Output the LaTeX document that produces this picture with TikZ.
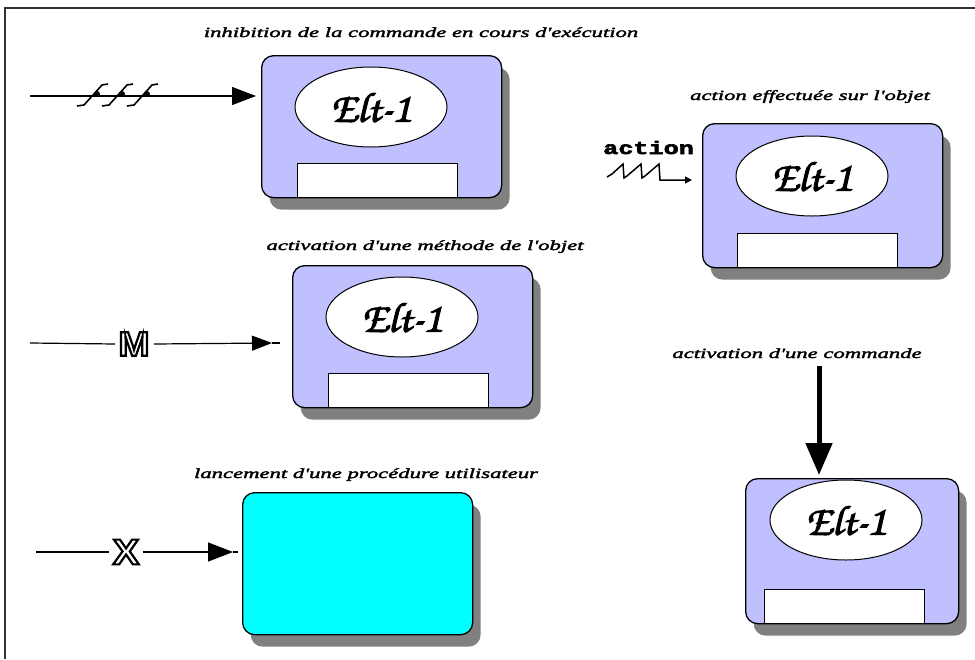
\documentclass[tikz,border=0pt]{standalone}
\usepackage[T1]{fontenc}
\usepackage{fontspec}
\usetikzlibrary{arrows.meta,calc,shadows,shapes.geometric}
\newfontfamily\labfont[FakeStretch=1.62]{Liberation Serif Italic}
\newfontfamily\actfont[FakeStretch=1.4]{Liberation Mono Bold}
\newfontfamily\symfont[FakeStretch=1.1]{Liberation Sans Bold}
\newcommand\eltfont{\fontencoding{T1}\fontfamily{pzc}\fontseries{mb}\fontshape{it}\fontsize{42}{42}\selectfont}
\newcommand\strokedtext[2]{\special{pdf:literal direct #1}#2\special{pdf:literal direct 0 Tr 1 w}}
\definecolor{lav}{RGB}{192,192,255}
\definecolor{cyanbox}{RGB}{0,255,255}
\definecolor{shadowgray}{RGB}{128,128,128}
\tikzset{
  framepen/.style={line width=2.2pt, black!80},
  card/.style={draw=black, line width=1.3pt, fill=lav, rounded corners=12pt,
    anchor=north west, inner sep=0pt,
    general shadow={fill=shadowgray, draw=none, shadow xshift=8pt, shadow yshift=-12pt}},
  cyancard/.style={card, fill=cyanbox},
  eltoval/.style={draw=black, line width=1pt, fill=white, ellipse, inner sep=0pt,
    minimum width=152pt, minimum height=80pt, font=\eltfont},
  whitebar/.style={draw=black, line width=1.3pt, fill=white, anchor=south west,
    inner sep=0pt, minimum width=160pt, minimum height=34pt},
  lab/.style={font=\labfont\fontsize{14}{14}\selectfont, anchor=base, inner sep=0pt},
  wire/.style={line width=1.2pt, black},
  tipA/.style={line width=1.2pt, -{Triangle[length=24pt,width=18pt]}},
  tipB/.style={line width=1.2pt, -{Triangle[length=20pt,width=15pt]}},
  tipC/.style={line width=1.2pt, -{Triangle[length=25pt,width=19pt]}},
  sym/.style={font=\symfont\fontsize{34}{34}\selectfont, inner sep=0pt},
}
\newcommand\elt{\strokedtext{2 Tr 1.1 w}{Elt-1}}
\newcommand\labtext[1]{\strokedtext{2 Tr 0.35 w}{#1}}
\begin{document}
\begin{tikzpicture}[x=1pt,y=-1pt]
\useasboundingbox (0,0) rectangle (975,659);
% frame
\draw[framepen] (5,659) -- (5,8) -- (975,8);

% card 1
\node[card, minimum width=240pt, minimum height=142pt] (b1) at (261,55) {};
\node[eltoval] (e1) at ($(b1.north west)+(110,52)$) {\elt};
\node[whitebar] (w1) at ($(b1.south west)+(36,0)$) {};
\node[lab] (l1) at (421,37) {\labtext{inhibition de la commande en cours d'exécution}};

% card 2
\node[card, minimum width=240pt, minimum height=142pt] (b2) at (292,265) {};
\node[eltoval] (e2) at ($(b2.north west)+(110,52)$) {\elt};
\node[whitebar] (w2) at ($(b2.south west)+(36,0)$) {};
\node[lab] (l2) at (425,250) {\labtext{activation d'une méthode de l'objet}};

% card 3
\node[card, minimum width=240pt, minimum height=144pt] (b3) at (702,123) {};
\node[eltoval] (e3) at ($(b3.north west)+(110,53)$) {\elt};
\node[whitebar] (w3) at ($(b3.south west)+(35,0)$) {};
\node[lab] (l3) at (810,100) {\labtext{action effectuée sur l'objet}};

% card 4
\node[card, minimum width=213pt, minimum height=145pt] (b4) at (745,478) {};
\node[eltoval] (e4) at ($(b4.north west)+(101,42)$) {\elt};
\node[whitebar] (w4) at ($(b4.south west)+(19,0)$) {};
\node[lab] (l4) at (797,358) {\labtext{activation d'une commande}};

% card 5 (cyan)
\node[cyancard, minimum width=230pt, minimum height=142pt] (b5) at (242,492) {};
\node[lab] (l5) at (366,478) {\labtext{lancement d'une procédure utilisateur}};

% arrow 1 with hash marks
\coordinate (a1s) at (30,96);
\coordinate (a1t) at ($(b1.west|-a1s)+(-5,0)$);
\draw[tipA] (a1s) -- (a1t);
\foreach \hx in {97,122,147}{
  \draw[line width=1.6pt] (\hx-20,106) -- (\hx-13,105) -- (\hx+5,85) -- (\hx+11,84);
  \fill (\hx,94) circle (3pt);
}

% arrow 2 with M
\node[sym] (m) at (134,344) {\strokedtext{1 Tr 2.2 w}{M}};
\coordinate (a2s) at (30,343);
\coordinate (a2t) at (272,343);
\coordinate (a2e) at (280,343);
\draw[wire] (a2s) -- ($(m.west)+(-3,0)$);
\draw[tipB] ($(m.east)+(4,0)$) -- (a2t);
\draw[wire] (a2t) -- (a2e);

% arrow 3 with X
\node[sym, font=\symfont\fontsize{36}{36}\selectfont] (xs) at (126,552) {\strokedtext{1 Tr 2.2 w}{X}};
\coordinate (a3s) at (36,552);
\coordinate (a3t) at (233,552);
\coordinate (a3e) at (238,552);
\draw[wire] (a3s) -- ($(xs.west)+(-4,0)$);
\draw[tipC] ($(xs.east)+(4,0)$) -- (a3t);
\draw[wire] (a3t) -- (a3e);

% action squiggle
\node[font=\actfont\fontsize{18}{18}\selectfont, anchor=base west, inner sep=0pt] (act) at (603,154) {\strokedtext{2 Tr 0.6 w}{action}};
\coordinate (sq) at (607,177);
\coordinate (sqt) at (692,180);
\draw[line width=1.5pt, -{Triangle[length=7pt,width=7pt]}]
  (sq) -- (612,174) -- (623,164) -- (624,178) -- (627,176) -- (641,164) -- (642,178) -- (645,176) -- (659,164) -- (660,180) -- (sqt);

% down arrow
\coordinate (d0) at (819,366);
\draw[line width=5pt, -{Triangle[length=32pt,width=26pt]}] (d0) -- ($(b4.north west-|d0)+(0,-3)$);
\end{tikzpicture}
\end{document}
